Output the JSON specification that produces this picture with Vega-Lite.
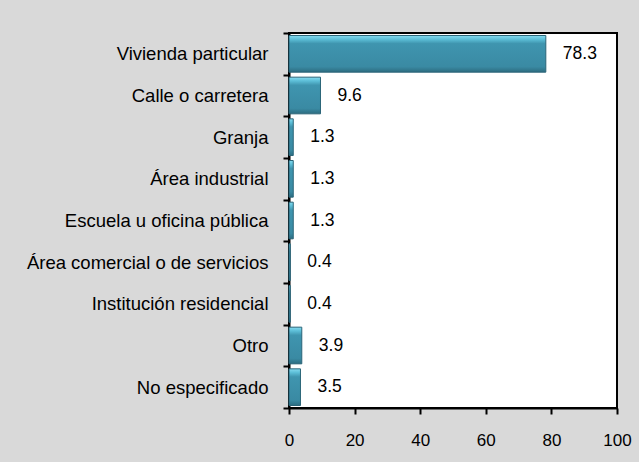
{
  "$schema": "https://vega.github.io/schema/vega-lite/v6.json",
  "autosize": {"type": "none"},
  "padding": {"left": 289, "top": 33, "right": 22, "bottom": 54},
  "width": 328,
  "height": 375,
  "background": "#d9d9d9",
  "config": {
    "view": {"fill": "#ffffff", "stroke": "#000000", "strokeWidth": 2},
    "font": "Liberation Sans",
    "axis": {"grid": false, "domainColor": "#000000", "domainWidth": 2, "tickColor": "#000000", "tickWidth": 2, "tickSize": 6, "labelColor": "#000000", "labelFont": "Liberation Sans", "labelFontSize": 17, "title": null}
  },
  "data": {
    "values": [
      {"lugar": "Vivienda particular", "pct": 78.3},
      {"lugar": "Calle o carretera", "pct": 9.6},
      {"lugar": "Granja", "pct": 1.3},
      {"lugar": "Área industrial", "pct": 1.3},
      {"lugar": "Escuela u oficina pública", "pct": 1.3},
      {"lugar": "Área comercial o de servicios", "pct": 0.4},
      {"lugar": "Institución residencial", "pct": 0.4},
      {"lugar": "Otro", "pct": 3.9},
      {"lugar": "No especificado", "pct": 3.5}
    ]
  },
  "encoding": {
    "y": {
      "field": "lugar", "type": "nominal", "sort": null,
      "scale": {"paddingInner": 0, "paddingOuter": 0},
      "axis": {"tickBand": "extent", "labelPadding": 15, "labelLimit": 300, "labelFontSize": 18.5}
    },
    "x": {
      "field": "pct", "type": "quantitative",
      "scale": {"domain": [0, 100], "nice": false},
      "axis": {"values": [0, 20, 40, 60, 80, 100], "labelPadding": 18, "labelFlush": false}
    }
  },
  "layer": [
    {
      "mark": {
        "type": "bar",
        "height": {"band": 0.88},
        "stroke": "#2b6578",
        "strokeWidth": 1,
        "color": {
          "gradient": "linear", "x1": 0, "y1": 0, "x2": 0, "y2": 1,
          "stops": [
            {"offset": 0, "color": "#86dbf0"},
            {"offset": 0.1, "color": "#5dbfd8"},
            {"offset": 0.22, "color": "#3f95af"},
            {"offset": 0.85, "color": "#3a8aa3"},
            {"offset": 1, "color": "#2c6c80"}
          ]
        }
      }
    },
    {
      "mark": {"type": "text", "align": "left", "baseline": "middle", "dx": 17, "fontSize": 17.5, "color": "#000000", "font": "Liberation Sans"},
      "encoding": {"text": {"field": "pct", "type": "quantitative", "format": ".1f"}}
    }
  ]
}
